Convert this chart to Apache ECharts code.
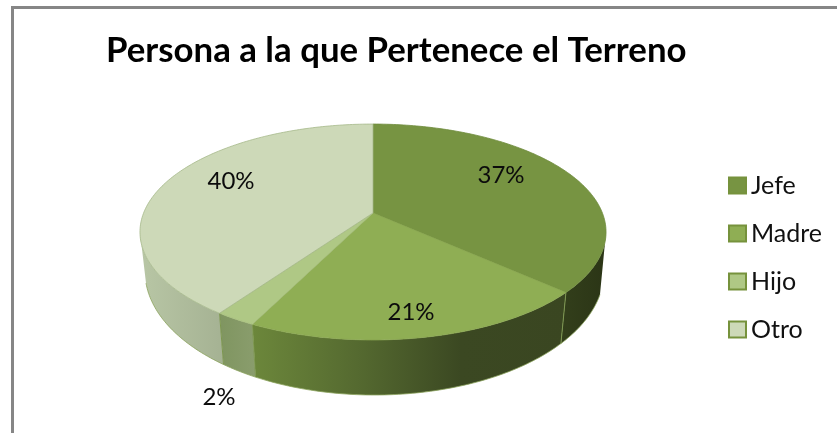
<!DOCTYPE html>
<html>
<head>
<meta charset="utf-8">
<style>html,body{margin:0;padding:0;background:#fff}#c{width:837px;height:433px}</style>
<script src="https://cdn.jsdelivr.net/npm/echarts@6/dist/echarts.min.js"></script>
</head>
<body>
<div id="c"></div>
<script>
const chartTitle = 'Persona a la que Pertenece el Terreno';
const categories = ['Jefe', 'Madre', 'Hijo', 'Otro'];
const shares = [36.7, 20.6, 2.4, 40.3];

const topColors = ['#779442', '#8fae54', '#afc885', '#cdd9b8'];
const edgeColors = ['#6f8b3c', '#89a64f', '#a3bb79', '#a6b98a'];
const rimStops = [
  ['#333f1b', '#2b3516'],
  ['#6c873b', '#556a30', '#3b4822', '#3a4621'],
  ['#7f9560', '#8a9d6d'],
  ['#b8c6a5', '#a5b293']
];
const labelSpots = [[501, 175], [411, 312], [219, 397], [231, 181]];

// Projected disc: a perspective view of a circle, seen from the front
const view = { cx: 373, cy: 213, sx: 229.4, sy: 104.6, k: 0.176, shrink: 0.974 };
// Outline of the underside of the disc
const under = { cx: 374.5, cy: 271.5, rx: 229.5, ry: 123.5 };
function topPoint(deg) {
  const t = deg * Math.PI / 180, x = Math.sin(t), y = -Math.cos(t), w = 1 - view.k * y;
  return [view.cx + view.sx * x / w, view.cy + view.sy * y / w];
}
function basePoint(deg) {
  const p = topPoint(deg);
  const dx = view.shrink * (p[0] - view.cx) + (view.cx - under.cx);
  const u = Math.min(1, Math.abs(dx) / under.rx);
  return [under.cx + dx, under.cy + under.ry * Math.sqrt(1 - u * u)];
}
function arcPoints(fn, a, b) {
  const pts = [], n = Math.max(2, Math.ceil(Math.abs(b - a)));
  for (let i = 0; i <= n; i++) pts.push(fn(a + (b - a) * i / n));
  return pts;
}

const total = shares.reduce((s, v) => s + v, 0);
function sliceRange(i) {
  let before = 0;
  for (let j = 0; j < i; j++) before += shares[j];
  return [before / total * 360, (before + shares[i]) / total * 360];
}

function renderSlice(i) {
  return function (params, api) {
    const value = api.value(0);
    const [a0] = sliceRange(i);
    const a1 = a0 + value / total * 360;
    const children = [];
    // Side wall, only on the part of the disc that faces the viewer
    const ra = Math.max(a0, 100), rb = Math.min(a1, 260);
    if (rb > ra) {
      const upper = arcPoints(topPoint, ra, rb);
      const lower = arcPoints(basePoint, ra, rb);
      const xs = upper.concat(lower).map(p => p[0]);
      const xmin = Math.min(...xs), xmax = Math.max(...xs);
      const st = rimStops[i];
      const stops = st.map((c, n) => ({ offset: n / (st.length - 1), color: c }));
      children.push({
        type: 'polygon',
        shape: { points: upper.concat(lower.reverse()) },
        style: { fill: new echarts.graphic.LinearGradient(xmin, 0, xmax, 0, stops, true), stroke: null }
      });
      // Pale seam where this wall meets the previous one
      if (a0 > ra - 0.01 && a0 < 260) {
        children.push({
          type: 'line',
          shape: { x1: topPoint(a0)[0], y1: topPoint(a0)[1], x2: basePoint(a0)[0], y2: basePoint(a0)[1] },
          style: { stroke: '#7d9750', lineWidth: 1 }
        });
      }
      // Thin light contour of the bottom of the wall
      children.push({
        type: 'polyline',
        shape: { points: arcPoints(basePoint, ra, rb) },
        style: { fill: null, stroke: '#8aa25c', lineWidth: 0.8 }
      });
    }
    // Top face
    const face = [[view.cx, view.cy]].concat(arcPoints(topPoint, a0, a1));
    children.push({
      type: 'polygon',
      shape: { points: face },
      style: { fill: topColors[i], stroke: edgeColors[i], lineWidth: 0.8 }
    });
    children.push({
      type: 'text',
      z2: 10,
      style: {
        text: Math.round(value / total * 100) + '%',
        x: labelSpots[i][0], y: labelSpots[i][1],
        align: 'center', verticalAlign: 'middle',
        font: '24px Lato', fill: '#0c0c0c'
      }
    });
    return { type: 'group', children };
  };
}

const chart = echarts.init(document.getElementById('c'), null, { renderer: 'canvas' });
chart.setOption({
  animation: false,
  backgroundColor: '#fff',
  title: {
    text: chartTitle, left: 101, top: 28,
    textStyle: { fontFamily: 'Lato', fontWeight: 'bold', fontSize: 34.8, color: '#000' }
  },
  legend: {
    orient: 'vertical', left: 723, top: 168, itemWidth: 17, itemHeight: 16, itemGap: 23,
    selectedMode: false,
    textStyle: { fontFamily: 'Lato', fontSize: 25, color: '#111', lineHeight: 16, padding: [0, 0, 0, 0] },
    data: categories.map((name, i) => ({
      name, icon: 'rect',
      itemStyle: { color: topColors[i], borderColor: '#76923c', borderWidth: 2 }
    }))
  },
  graphic: [{
    type: 'polyline', silent: true,
    shape: { points: [[12.5, 440], [12.5, 7.5], [840, 7.5]] },
    style: { fill: null, stroke: '#868686', lineWidth: 3 }
  }],
  series: categories.map((name, i) => ({
    type: 'custom', name, silent: true,
    coordinateSystem: 'none',
    itemStyle: { color: topColors[i] },
    data: [[shares[i]]],
    renderItem: renderSlice(i)
  }))
});
</script>
</body>
</html>
